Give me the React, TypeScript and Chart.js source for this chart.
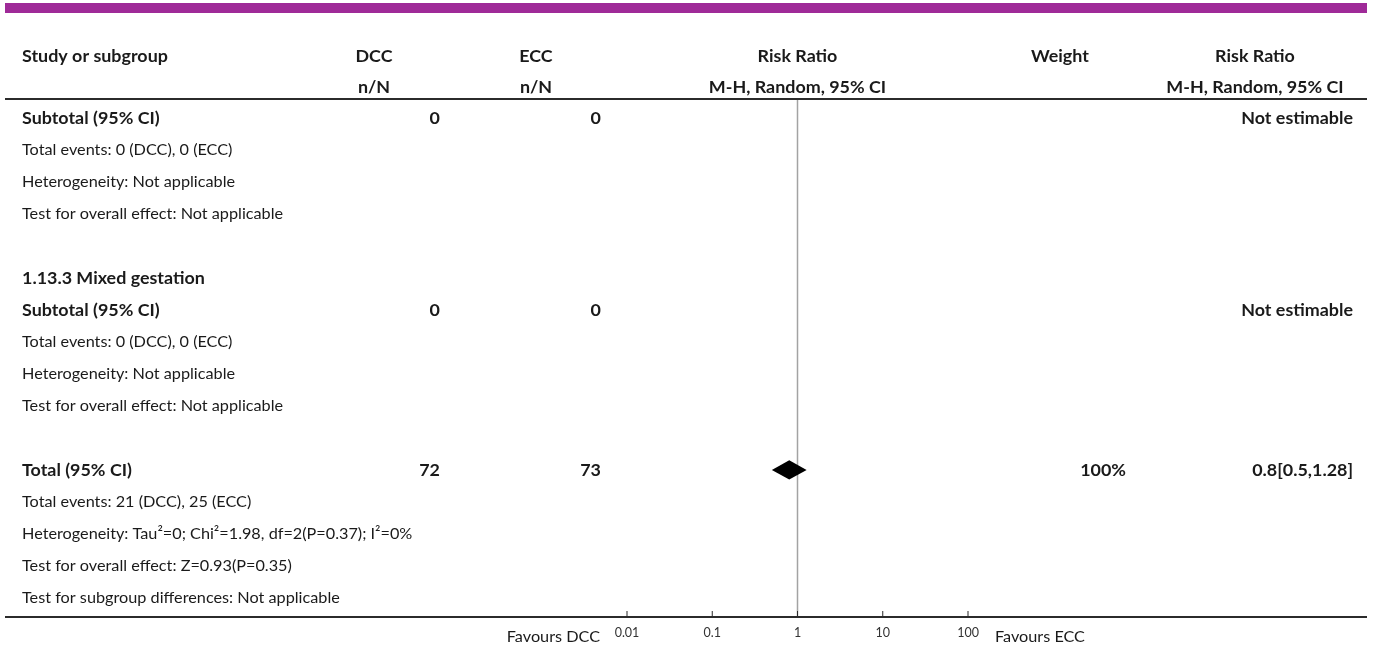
import React, { useEffect, useRef } from "react";
import { Chart, registerables } from "chart.js";

Chart.register(...registerables);

// ---------- data ----------
const headerTitles = ["Study or subgroup", "DCC", "ECC", "Risk Ratio", "Weight", "Risk Ratio"];
const headerSubtitles = ["", "n/N", "n/N", "M-H, Random, 95% CI", "", "M-H, Random, 95% CI"];

const rowLabels = [
  "Subtotal (95% CI)",
  "Total events: 0 (DCC), 0 (ECC)",
  "Heterogeneity: Not applicable",
  "Test for overall effect: Not applicable",
  "",
  "1.13.3 Mixed gestation",
  "Subtotal (95% CI)",
  "Total events: 0 (DCC), 0 (ECC)",
  "Heterogeneity: Not applicable",
  "Test for overall effect: Not applicable",
  "",
  "Total (95% CI)",
  "Total events: 21 (DCC), 25 (ECC)",
  "Heterogeneity: Tau\u00B2=0; Chi\u00B2=1.98, df=2(P=0.37); I\u00B2=0%",
  "Test for overall effect: Z=0.93(P=0.35)",
  "Test for subgroup differences: Not applicable",
];
const boldRows = [0, 5, 6, 11];
const dccTotals = ["0", "", "", "", "", "", "0", "", "", "", "", "72", "", "", "", ""];
const eccTotals = ["0", "", "", "", "", "", "0", "", "", "", "", "73", "", "", "", ""];
const weightLabels = ["", "", "", "", "", "", "", "", "", "", "", "100%", "", "", "", ""];
const effectLabels = ["Not estimable", "", "", "", "", "", "Not estimable", "", "", "", "", "0.8[0.5,1.28]", "", "", "", ""];

const diamondRow = 11;
const diamondRR = [0.5, 0.8, 1.28]; // lower CI, estimate, upper CI
const nullEffect = 1;

const axisTicks = [0.01, 0.1, 1, 10, 100];
const axisTickLabels = ["0.01", "0.1", "1", "10", "100"];
const favourLabels = ["Favours DCC", "Favours ECC"];

// ---------- styling ----------
const FONT = "Lato, 'Noto Sans', sans-serif";
const TEXT = "#1a1a1a";

function fitSize(ctx: CanvasRenderingContext2D, text: string, weight: string, target: number) {
  ctx.font = `${weight} 20px ${FONT}`;
  const w = ctx.measureText(text).width;
  return (20 * target) / w;
}

const forestPlugin = {
  id: "forestTable",
  afterDraw(chart: any) {
    const ctx: CanvasRenderingContext2D = chart.ctx;
    const xs = chart.scales.x;
    const ys = chart.scales.y;
    ctx.save();

    const regSize = fitSize(ctx, rowLabels[15], "normal", 318);
    const boldSize = fitSize(ctx, rowLabels[5], "bold", 183);
    const reg = `normal ${regSize}px ${FONT}`;
    const bold = `bold ${boldSize}px ${FONT}`;

    // top purple band
    ctx.fillStyle = "#9f2a98";
    ctx.fillRect(5, 3, 1362, 10);

    // header rule
    ctx.fillStyle = "#2b2b2b";
    ctx.fillRect(5, 98, 1362, 2);

    // null effect line
    const x1 = xs.getPixelForValue(nullEffect);
    ctx.fillStyle = "#a3a3a3";
    ctx.fillRect(x1 - 0.75, 100, 1.5, chart.chartArea.bottom - 100);

    // bottom axis line + ticks
    ctx.fillStyle = "#2b2b2b";
    ctx.fillRect(5, chart.chartArea.bottom - 1, 1362, 2);
    axisTicks.forEach((v) => {
      const px = xs.getPixelForValue(v);
      ctx.fillRect(px - 0.5, chart.chartArea.bottom - 6, 1, 6);
    });

    // diamond
    const yd = ys.getPixelForValue(diamondRow);
    const half = ys.getPixelForValue(diamondRow + 0.3) - yd;
    ctx.fillStyle = "#000";
    ctx.beginPath();
    ctx.moveTo(xs.getPixelForValue(diamondRR[0]), yd);
    ctx.lineTo(xs.getPixelForValue(diamondRR[1]), yd - half);
    ctx.lineTo(xs.getPixelForValue(diamondRR[2]), yd);
    ctx.lineTo(xs.getPixelForValue(diamondRR[1]), yd + half);
    ctx.closePath();
    ctx.fill();

    // headers
    ctx.fillStyle = TEXT;
    ctx.textBaseline = "middle";
    ctx.font = bold;
    const headerX = [22, 374, 536, (xs.left + xs.right) / 2, 1060, 1255];
    const headerAlign: CanvasTextAlign[] = ["left", "center", "center", "center", "center", "center"];
    headerTitles.forEach((t, i) => {
      ctx.textAlign = headerAlign[i];
      ctx.fillText(t, headerX[i], 56);
    });
    headerSubtitles.forEach((t, i) => {
      if (!t) return;
      ctx.textAlign = headerAlign[i];
      ctx.fillText(t, headerX[i], 87);
    });

    // rows
    rowLabels.forEach((label, i) => {
      const y = ys.getPixelForValue(i);
      const isBold = boldRows.includes(i);
      ctx.font = isBold ? bold : reg;
      ctx.textAlign = "left";
      if (label) ctx.fillText(label, 22, y);
      ctx.font = bold;
      ctx.textAlign = "right";
      if (dccTotals[i]) ctx.fillText(dccTotals[i], 440, y);
      if (eccTotals[i]) ctx.fillText(eccTotals[i], 601, y);
      if (weightLabels[i]) ctx.fillText(weightLabels[i], 1126, y);
      if (effectLabels[i]) ctx.fillText(effectLabels[i], 1353, y);
    });

    // favours labels
    ctx.font = reg;
    ctx.textAlign = "right";
    ctx.fillText(favourLabels[0], 600, 637);
    ctx.textAlign = "left";
    ctx.fillText(favourLabels[1], 995, 637);

    ctx.restore();
  },
};

export default function App() {
  const canvasRef = useRef<HTMLCanvasElement | null>(null);

  useEffect(() => {
    const canvas = canvasRef.current;
    if (!canvas) return;
    const chart = new Chart(canvas, {
      type: "scatter",
      data: { datasets: [{ data: [] }] },
      options: {
        responsive: false,
        animation: false,
        events: [],
        layout: { padding: { left: 627, right: 407, top: 99, bottom: 0 } },
        plugins: { legend: { display: false }, tooltip: { enabled: false } },
        scales: {
          x: {
            type: "logarithmic",
            min: axisTicks[0],
            max: axisTicks[axisTicks.length - 1],
            afterBuildTicks: (scale: any) => {
              scale.ticks = axisTicks.map((v) => ({ value: v }));
            },
            afterFit: (scale: any) => {
              scale.height = 31;
            },
            grid: { display: false, drawTicks: false },
            border: { display: false },
            ticks: {
              padding: 8,
              autoSkip: false,
              maxRotation: 0,
              color: "#333",
              font: { family: FONT, size: 12.5 },
              callback: (v: any) => {
                const idx = axisTicks.indexOf(Number(v));
                return idx >= 0 ? axisTickLabels[idx] : "";
              },
            },
          },
          y: {
            display: false,
            reverse: true,
            min: -0.6,
            max: 15.6,
          },
        },
      },
      plugins: [forestPlugin],
    });
    return () => chart.destroy();
  }, []);

  return (
    <div style={{ position: "fixed", left: 0, top: 0, width: 1375, height: 648, background: "#fff" }}>
      <canvas ref={canvasRef} width={1375} height={648} style={{ display: "block" }} />
    </div>
  );
}
